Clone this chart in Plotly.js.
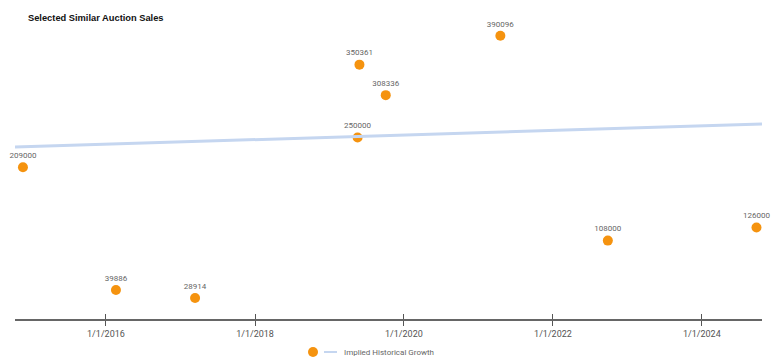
<!DOCTYPE html>
<html>
<head>
<meta charset="utf-8">
<script src="https://cdn.plot.ly/plotly-3.0.1.min.js"></script>
<style>html,body{margin:0;padding:0;background:#fff;}#chart{width:780px;height:362px;}</style>
</head>
<body>
<div id="chart"></div>
<script>
const saleDates = ['2014-11-20','2016-02-19','2017-03-13','2019-05-28','2019-05-19','2019-10-04','2021-04-18','2022-09-27','2024-09-25'];
const salePrices = [209000, 39886, 28914, 350361, 250000, 308336, 390096, 108000, 126000];
const trendDates = ['2014-10-12','2024-10-22'];
const trendValues = [236900, 268600];
const tickDates = ['2016-01-01','2018-01-01','2020-01-01','2022-01-01','2024-01-01'];
const tickLabels = ['1/1/2016','1/1/2018','1/1/2020','1/1/2022','1/1/2024'];
const legendLabel = 'Implied Historical Growth';

const orange = '#f5930f';
const blue = '#c5d6f0';

const traces = [
  {
    x: saleDates, y: salePrices, type: 'scatter', mode: 'markers+text',
    name: 'Sales',
    text: salePrices.map(String), textposition: 'top center',
    textfont: {family: 'Roboto, Arial, sans-serif', size: 8, color: '#666666'},
    marker: {color: orange, size: 10},
    cliponaxis: false, showlegend: false
  },
  {
    x: trendDates, y: trendValues, type: 'scatter', mode: 'lines',
    name: legendLabel,
    line: {color: blue, width: 3}, showlegend: false
  }
];

const layout = {
  width: 780, height: 362,
  margin: {l: 15, r: 18, t: 20, b: 43},
  paper_bgcolor: '#ffffff', plot_bgcolor: '#ffffff',
  title: {
    text: '<b>Selected Similar Auction Sales</b>',
    font: {family: 'Liberation Sans, Arial, sans-serif', size: 9.3, color: '#111111'},
    x: 28/780, xanchor: 'left', xref: 'container',
    y: 1 - 18/362, yanchor: 'middle', yref: 'container'
  },
  xaxis: {
    type: 'date',
    range: ['2014-10-12','2024-10-22'],
    tickmode: 'array', tickvals: tickDates, ticktext: tickLabels,
    ticks: 'outside', ticklen: 5, tickwidth: 1, tickcolor: '#555555',
    minor: {tickmode: 'array', tickvals: tickDates, ticks: 'inside', ticklen: 5, tickwidth: 1, tickcolor: '#555555', showgrid: false},
    showline: true, linecolor: '#666666', linewidth: 2,
    showgrid: false, zeroline: false,
    tickfont: {family: 'Roboto, Arial, sans-serif', size: 9, color: '#555555'}
  },
  yaxis: {
    range: [0, 411850],
    visible: false, showgrid: false, zeroline: false
  },
  showlegend: false,
  shapes: [
    {type: 'circle', xref: 'paper', yref: 'paper', xsizemode: 'pixel', ysizemode: 'pixel',
     xanchor: (313 - 15) / 747, yanchor: (319 - 352) / 299,
     x0: -5, x1: 5, y0: -5, y1: 5, fillcolor: orange, line: {width: 0}},
    {type: 'line', xref: 'paper', yref: 'paper',
     x0: (324 - 15) / 747, x1: (337 - 15) / 747, y0: (319 - 352) / 299, y1: (319 - 352) / 299,
     line: {color: blue, width: 2}}
  ],
  annotations: [
    {text: legendLabel, xref: 'paper', yref: 'paper', x: (342 - 15) / 747, y: (319 - 352) / 299,
     xanchor: 'left', yanchor: 'middle', showarrow: false,
     font: {family: 'Roboto, Arial, sans-serif', size: 8, color: '#666666'}}
  ]
};

Plotly.newPlot('chart', traces, layout, {displayModeBar: false, staticPlot: true});
</script>
</body>
</html>
